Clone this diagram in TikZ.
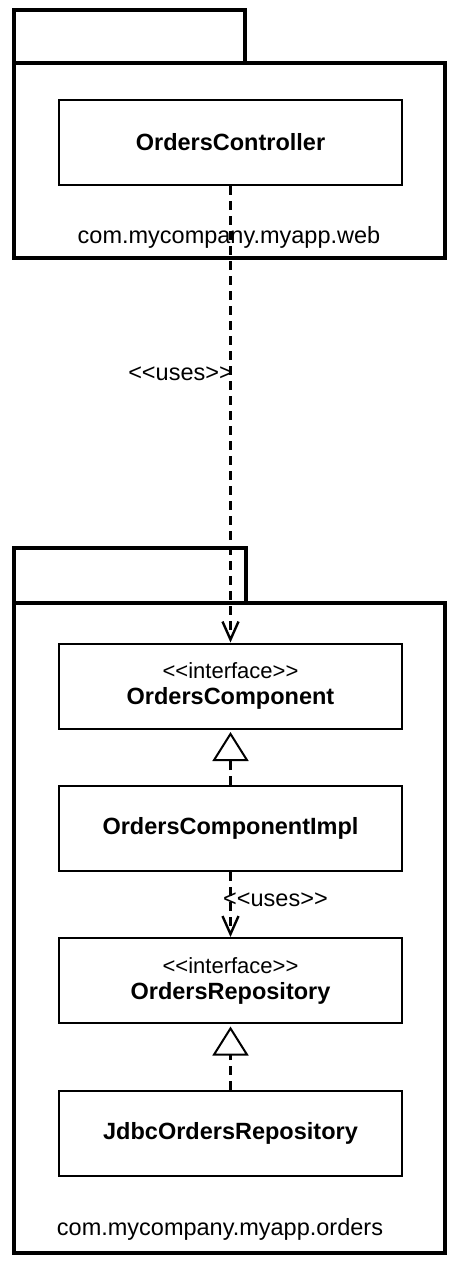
\documentclass[tikz,border=0pt]{standalone}
\usepackage{fontspec}
\setmainfont{Liberation Sans}
\usetikzlibrary{arrows.meta}
\begin{document}
\begin{tikzpicture}[x=1pt,y=-1pt,
  pkg/.style={line width=3.6pt},
  cls/.style={draw, line width=2pt, minimum width=343pt, minimum height=85pt, inner sep=0pt, align=center, font=\fontsize{23.5}{27}\selectfont},
  lbl/.style={inner sep=0pt, font=\fontsize{23.5}{27}\selectfont},
  dep/.style={line width=2.6pt, dash pattern=on 9pt off 6pt, -{Straight Barb[length=18pt,width=16pt,line width=2.4pt]}},
  real/.style={line width=2.6pt, dash pattern=on 9pt off 6pt, -{Triangle[open,length=29pt,width=36pt,line width=2pt,fill=white]}, shorten >=2.5pt}
]
\useasboundingbox (0,0) rectangle (451,1262);
% top package
\draw[pkg] (14,10) rectangle (245,63);
\draw[pkg] (14,63) rectangle (445,258);
% bottom package
\draw[pkg] (14,548) rectangle (246,603);
\draw[pkg] (14,603) rectangle (445,1253);

\node[cls] (oc) at (230.5,142.5) {\bfseries OrdersController};
\node[cls] (ocomp) at (230.5,686) {{\fontsize{22}{24}\selectfont <{}<interface>{}>}\\[-1pt]\bfseries OrdersComponent};
\node[cls] (impl) at (230.5,828.5) {\bfseries OrdersComponentImpl};
\node[cls] (orepo) at (230.5,980.5) {{\fontsize{22}{24}\selectfont <{}<interface>{}>}\\[-1pt]\bfseries OrdersRepository};
\node[cls] (jdbc) at (230.5,1133.5) {\bfseries JdbcOrdersRepository};

\node[lbl] (webpkg) at (229,237) {com.mycompany.myapp.web};
\node[lbl] (ordpkg) at (220,1229) {com.mycompany.myapp.orders};

\draw[dep] (oc.south) -- (ocomp.north);
\draw[real] (impl.north) -- (ocomp.south);
\draw[dep] (impl.south) -- (orepo.north);
\draw[real] (jdbc.north) -- (orepo.south);

\node[lbl, anchor=east] (uses1) at (233,374) {<{}<uses>{}>};
\node[lbl, anchor=west] (uses2) at (223,900) {<{}<uses>{}>};
\end{tikzpicture}
\end{document}
